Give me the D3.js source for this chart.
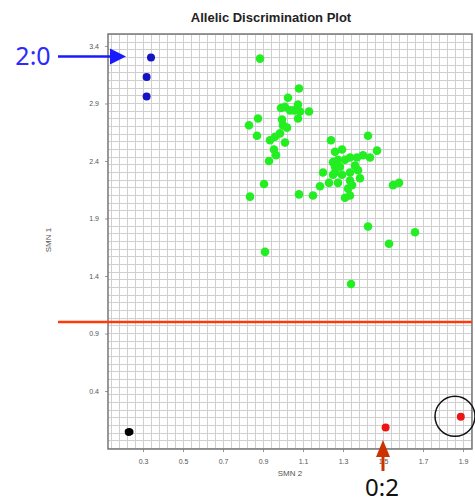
<!DOCTYPE html>
<html>
<head>
<meta charset="utf-8">
<script src="https://cdn.jsdelivr.net/npm/d3@7"></script>
<style>
  body { margin: 0; background: #fff; }
  svg { display: block; }
</style>
</head>
<body>
<div id="chart"></div>
<script>
// SMN2 (x) / SMN1 (y) signal per sample, grouped by call
var blue_x = [0.34, 0.318, 0.318];
var blue_y = [3.30, 3.13, 2.96];

var green_x = [0.885, 1.08, 1.025, 0.99, 1.01, 1.035, 1.055, 1.075, 1.085, 1.075, 1.13, 0.875, 0.83, 0.87,
  0.995, 1.0, 1.02, 0.985, 0.96, 0.935, 1.01, 0.955, 0.965, 0.93, 0.905, 0.835, 1.08, 0.91,
  1.24, 1.425, 1.295, 1.26, 1.47, 1.435, 1.4, 1.37, 1.335, 1.31, 1.275, 1.25, 1.26, 1.285, 1.36,
  1.375, 1.335, 1.26, 1.2, 1.25, 1.295, 1.385, 1.335, 1.275, 1.23, 1.185, 1.345, 1.325, 1.335,
  1.31, 1.15, 1.55, 1.58, 1.425, 1.66, 1.53, 1.34];
var green_y = [3.29, 3.03, 2.95, 2.86, 2.87, 2.84, 2.84, 2.89, 2.83, 2.77, 2.83, 2.77, 2.71, 2.62,
  2.76, 2.71, 2.69, 2.64, 2.61, 2.58, 2.56, 2.50, 2.45, 2.40, 2.20, 2.09, 2.11, 1.61,
  2.58, 2.62, 2.50, 2.48, 2.49, 2.43, 2.45, 2.43, 2.43, 2.41, 2.41, 2.39, 2.35, 2.35, 2.36,
  2.32, 2.30, 2.30, 2.30, 2.28, 2.28, 2.25, 2.23, 2.21, 2.21, 2.18, 2.19, 2.16, 2.10,
  2.08, 2.10, 2.19, 2.21, 1.83, 1.78, 1.68, 1.33];

var red_x = [1.513, 1.889];
var red_y = [0.084, 0.177];

var black_x = [0.225, 0.232, 0.228, 0.236];
var black_y = [0.045, 0.050, 0.038, 0.043];

var x_ticks = [0.3, 0.5, 0.7, 0.9, 1.1, 1.3, 1.5, 1.7, 1.9];
var y_ticks = [0.4, 0.9, 1.4, 1.9, 2.4, 2.9, 3.4];
var threshold = 1.0;

var width = 475, height = 503;
var margin = {top: 34, right: 3, bottom: 54, left: 108};

var svg = d3.select("#chart").append("svg")
    .attr("width", width)
    .attr("height", height);

var x = d3.scaleLinear().domain([0.125, 1.945]).range([margin.left, width - margin.right]);
var y = d3.scaleLinear().domain([-0.104, 3.504]).range([height - margin.bottom, margin.top]);

// fine grid
var x_grid = d3.range(0.14, 1.945, 0.04);
var y_grid = d3.range(-0.1, 3.504, 1 / 15);

svg.append("g").selectAll("line")
    .data(x_grid)
    .enter()
    .append("line")
    .attr("x1", d => x(d)).attr("x2", d => x(d))
    .attr("y1", y.range()[1]).attr("y2", y.range()[0])
    .attr("stroke", "#cfcfcf")
    .attr("stroke-width", 1)
    .attr("shape-rendering", "crispEdges");

svg.append("g").selectAll("line")
    .data(y_grid)
    .enter()
    .append("line")
    .attr("x1", x.range()[0]).attr("x2", x.range()[1])
    .attr("y1", d => y(d)).attr("y2", d => y(d))
    .attr("stroke", "#cfcfcf")
    .attr("stroke-width", 1)
    .attr("shape-rendering", "crispEdges");

// axes
var x_axis = svg.append("g")
    .attr("transform", "translate(0," + y.range()[0] + ")")
    .call(d3.axisBottom(x).tickValues(x_ticks).tickSize(3).tickFormat(d3.format(".1f")));
var y_axis = svg.append("g")
    .attr("transform", "translate(" + x.range()[0] + ",0)")
    .call(d3.axisLeft(y).tickValues(y_ticks).tickSize(3).tickFormat(d3.format(".1f")));

[x_axis, y_axis].forEach(function(ax){
    ax.select(".domain").remove();
    ax.selectAll("line").attr("stroke", "#999");
    ax.selectAll("text")
        .attr("fill", "#555")
        .style("font-family", "Liberation Sans, Arial, sans-serif")
        .style("font-size", "7px");
});
x_axis.selectAll("text").attr("dy", "1.3em");
y_axis.selectAll("text").attr("x", -9);

// frame
svg.append("rect")
    .attr("x", x.range()[0])
    .attr("y", y.range()[1])
    .attr("width", x.range()[1] - x.range()[0])
    .attr("height", y.range()[0] - y.range()[1])
    .attr("fill", "none")
    .attr("stroke", "#777")
    .attr("stroke-width", 1.5);

// title and axis labels
svg.append("text")
    .attr("x", 271).attr("y", 22)
    .attr("text-anchor", "middle")
    .style("font-family", "Liberation Sans, Arial, sans-serif")
    .style("font-weight", "bold")
    .style("font-size", "13px")
    .attr("fill", "#222")
    .text("Allelic Discrimination Plot");

svg.append("text")
    .attr("x", 290).attr("y", 476)
    .attr("text-anchor", "middle")
    .style("font-family", "Liberation Sans, Arial, sans-serif")
    .style("font-size", "8px")
    .attr("fill", "#555")
    .text("SMN 2");

svg.append("text")
    .attr("transform", "translate(51,240) rotate(-90)")
    .attr("text-anchor", "middle")
    .style("font-family", "Liberation Sans, Arial, sans-serif")
    .style("font-size", "8px")
    .attr("fill", "#555")
    .text("SMN 1");

// points
function add_points(xs, ys, color, r) {
    svg.append("g").selectAll("circle")
        .data(xs.map((v, i) => [v, ys[i]]))
        .enter()
        .append("circle")
        .attr("cx", d => x(d[0]))
        .attr("cy", d => y(d[1]))
        .attr("r", r)
        .attr("fill", color);
}
add_points(green_x, green_y, "#22ee22", 4.3);
add_points(blue_x, blue_y, "#1414c4", 4);
add_points(red_x, red_y, "#ee1414", 4);
add_points(black_x, black_y, "#000", 3.3);

// threshold line
svg.append("line")
    .attr("x1", 58).attr("x2", x.range()[1])
    .attr("y1", y(threshold)).attr("y2", y(threshold))
    .attr("stroke", "#ff3a0a")
    .attr("stroke-width", 2.5);

// circled sample
svg.append("circle")
    .attr("cx", x(1.86)).attr("cy", y(0.18))
    .attr("r", 20)
    .attr("fill", "none")
    .attr("stroke", "#111")
    .attr("stroke-width", 1.5);

// 2:0 annotation
var blue_ay = y(blue_y[0]) - 1;
svg.append("line")
    .attr("x1", 58).attr("x2", 112)
    .attr("y1", blue_ay).attr("y2", blue_ay)
    .attr("stroke", "#1a1aff")
    .attr("stroke-width", 2.5);
svg.append("path")
    .attr("d", d3.line()([[110, blue_ay - 8], [126, blue_ay], [110, blue_ay + 8]]))
    .attr("fill", "#1a1aff");
svg.append("text")
    .attr("x", 33).attr("y", blue_ay + 9)
    .attr("text-anchor", "middle")
    .style("font-family", "Noto Sans, Open Sans, sans-serif")
    .style("font-size", "25px")
    .attr("fill", "#2a2aff")
    .text("2:0");

// 0:2 annotation
var red_ax = x(1.5);
svg.append("line")
    .attr("x1", red_ax).attr("x2", red_ax)
    .attr("y1", 471).attr("y2", 452)
    .attr("stroke", "#cc3300")
    .attr("stroke-width", 3);
svg.append("path")
    .attr("d", d3.line()([[red_ax - 7, 457], [red_ax, 440], [red_ax + 7, 457]]))
    .attr("fill", "#cc3300");
svg.append("text")
    .attr("x", red_ax - 1).attr("y", 496)
    .attr("text-anchor", "middle")
    .style("font-family", "Noto Sans, Open Sans, sans-serif")
    .style("font-size", "24px")
    .attr("fill", "#111")
    .text("0:2");
</script>
</body>
</html>
